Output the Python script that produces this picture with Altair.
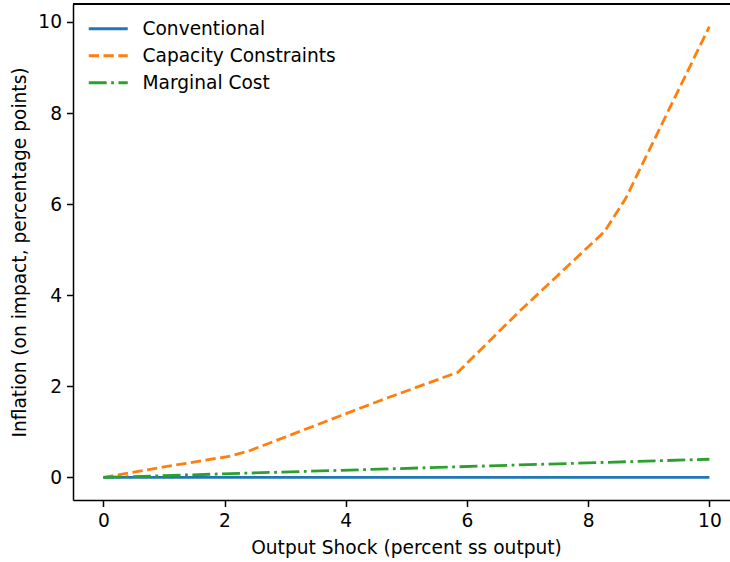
import altair as alt
import pandas as pd

series = ["Conventional", "Capacity Constraints", "Marginal Cost"]
colors = ["#1f77b4", "#ff7f0e", "#2ca02c"]

x_conv = [0, 10]
y_conv = [0, 0]

x_cap = [0, 1, 2.1, 2.4, 4.55, 5.85, 6.86, 8.27, 8.62, 10]
y_cap = [0, 0.23, 0.47, 0.58, 1.68, 2.31, 3.64, 5.40, 6.13, 9.90]

x_mc = [0, 10]
y_mc = [0, 0.40]

x_ticks = [0, 2, 4, 6, 8, 10]
y_ticks = [0, 2, 4, 6, 8, 10]

rows = []
for i, (xs, ys) in enumerate([(x_conv, y_conv), (x_cap, y_cap), (x_mc, y_mc)]):
    for j, (a, b) in enumerate(zip(xs, ys)):
        rows.append({"series": series[i], "x": a, "y": b, "order": j})
df = pd.DataFrame(rows)

W, H = 657, 496
FONT = "DejaVu Sans"
FS = 18.6

lines = alt.Chart(df).mark_line(strokeWidth=2.8, strokeCap="butt").encode(
    x=alt.X("x:Q", scale=alt.Scale(domain=[-0.5, 10.34], nice=False, zero=False),
            axis=alt.Axis(values=x_ticks, title="Output Shock (percent ss output)",
                          format="d", titlePadding=8, titleX=333)),
    y=alt.Y("y:Q", scale=alt.Scale(domain=[-0.495, 10.395], nice=False, zero=False),
            axis=alt.Axis(values=y_ticks, title="Inflation (on impact, percentage points)",
                          format="d", titlePadding=8)),
    color=alt.Color("series:N", scale=alt.Scale(domain=series, range=colors),
                    legend=alt.Legend(title=None, orient="none", legendX=23.75, legendY=13.25,
                                      symbolType="M-2,0L2,0", symbolSize=380,
                                      symbolStrokeWidth=2.8, labelOffset=22.75,
                                      labelFontSize=FS, labelFont=FONT, labelColor="#000",
                                      labelLimit=400, rowPadding=5)),
    strokeDash=alt.StrokeDash("series:N", scale=alt.Scale(domain=series,
                              range=[[1, 0], [10.3, 4.5], [17.9, 4.5, 2.8, 4.5]]),
                              legend=None),
    order="order:Q",
)

top = alt.Chart(df).mark_rule(color="#000", strokeWidth=1.5).encode(
    x=alt.value(0), x2=alt.value(W), y=alt.value(0)
)

chart = alt.layer(lines, top).properties(
    width=W, height=H,
    autosize=alt.AutoSizeParams(type="none"),
    padding={"left": 73, "top": 4, "right": 0, "bottom": 62},
).configure_view(stroke=None).configure_axis(
    grid=False, domainColor="#000", domainWidth=1.5, tickColor="#000",
    tickWidth=1.5, tickSize=6.5, labelFont=FONT, labelFontSize=FS, labelColor="#000",
    labelPadding=5, titleFont=FONT, titleFontSize=FS, titleColor="#000",
    titleFontWeight="normal",
).configure_legend(symbolStrokeColor=None)

chart.save("out.html", embed_options={"renderer": "svg", "actions": False})
